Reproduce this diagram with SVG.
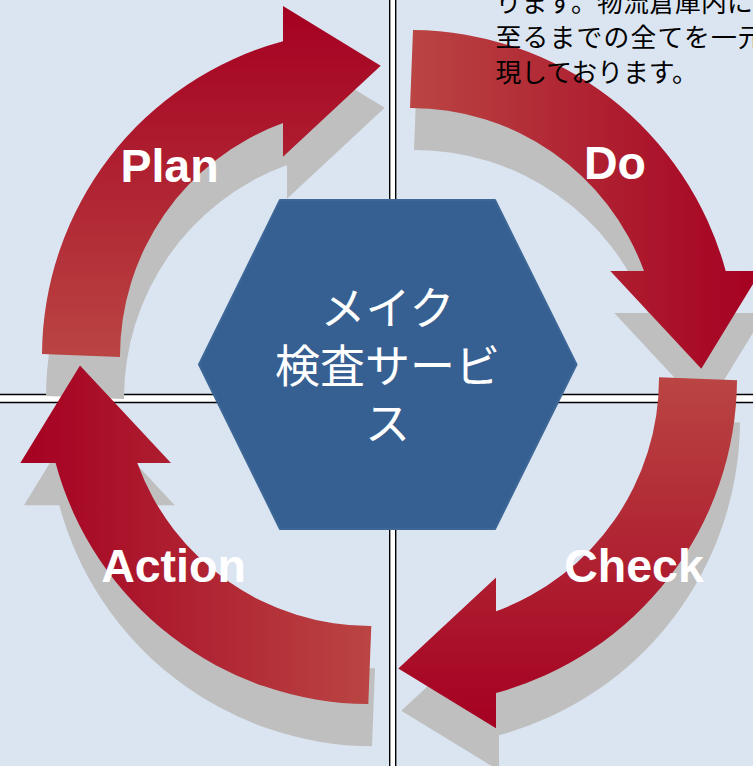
<svg xmlns="http://www.w3.org/2000/svg" xmlns:xlink="http://www.w3.org/1999/xlink" width="753" height="766" viewBox="0 0 753 766">
  <style>
    .shadow { fill: #bfbfbf; }
    .arrow { fill: url(#redGrad); }
    .label { font-family: "Liberation Sans", Arial, sans-serif; font-weight: bold; font-size: 46.5px; fill: #ffffff; text-anchor: middle; }
    .hexText { font-family: "Noto Sans CJK JP", sans-serif; font-size: 45px; fill: #ffffff; text-anchor: middle; }
    .note { font-family: "Noto Sans CJK JP", sans-serif; font-size: 25.8px; fill: #000000; }
  </style>
  <defs>
    <linearGradient id="redGrad" x1="0" y1="0" x2="0" y2="1">
      <stop offset="0" stop-color="#a50021"/>
      <stop offset="1" stop-color="#ba4543"/>
    </linearGradient>
    <path id="cyc" d="M -326 -2 A 326 326 0 0 1 -85 -314.7 L -85 -350 L 12.7 -290.3 L -85 -199.3 L -85 -233 A 248 248 0 0 0 -248 1 Z"/>
  </defs>

  <rect x="0" y="0" width="753" height="766" fill="#dbe5f1"/>

  <g id="gridLines">
    <line x1="392.7" y1="0" x2="392.7" y2="766" stroke="#000" stroke-width="7.4"/>
    <line x1="392.7" y1="0" x2="392.7" y2="766" stroke="#fff" stroke-width="4.6"/>
    <line x1="0" y1="398.5" x2="753" y2="398.5" stroke="#000" stroke-width="9.6"/>
    <line x1="0" y1="398.5" x2="753" y2="398.5" stroke="#fff" stroke-width="6.4"/>
    <line x1="392.7" y1="394" x2="392.7" y2="403" stroke="#000" stroke-width="7.4"/>
    <rect x="390.4" y="395.3" width="4.6" height="6.4" fill="#fff"/>
  </g>

  <g id="connectors">
    <g id="plan">
      <use xlink:href="#cyc" class="shadow" transform="translate(372,398)"/>
      <use xlink:href="#cyc" class="arrow" transform="translate(368,356)"/>
      <text class="label" x="169.5" y="182">Plan</text>
    </g>
    <g id="do">
      <use xlink:href="#cyc" class="shadow" transform="translate(415,398) rotate(90)"/>
      <use xlink:href="#cyc" class="arrow" transform="translate(411,356) rotate(90)"/>
      <text class="label" x="615" y="178.5">Do</text>
    </g>
    <g id="check">
      <use xlink:href="#cyc" class="shadow" transform="translate(414,420.5) rotate(180)"/>
      <use xlink:href="#cyc" class="arrow" transform="translate(411,378.3) rotate(180)"/>
      <text class="label" x="634" y="581.5">Check</text>
    </g>
    <g id="action">
      <use xlink:href="#cyc" class="shadow" transform="translate(374,420.3) rotate(270)"/>
      <use xlink:href="#cyc" class="arrow" transform="translate(370.3,378.1) rotate(270)"/>
      <text class="label" x="173.5" y="581.5">Action</text>
    </g>
  </g>

  <g id="center">
    <polygon points="280,200 495,200 576.5,364.5 495,529 280,529 199,364.5" fill="#376092" stroke="#3d6797" stroke-width="2" stroke-linejoin="round"/>
    <text class="hexText" x="387.5" y="324.5">メイク</text>
    <text class="hexText" x="387.5" y="383">検査サービ</text>
    <text class="hexText" x="387.5" y="440">ス</text>
  </g>

  <g id="note">
    <text class="note" x="495.5" y="11.5" letter-spacing="0.2">ります。物流倉庫内に</text>
    <text class="note" x="495.5" y="46.5" letter-spacing="1.2">至るまでの全てを一元</text>
    <text class="note" x="495.5" y="81.5">現しております。</text>
  </g>
</svg>
